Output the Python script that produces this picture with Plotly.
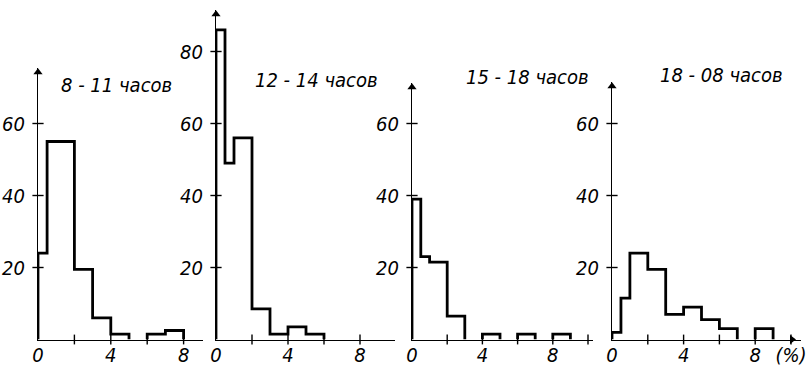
import plotly.graph_objects as go

# Bin edges (%) and frequencies for each time-of-day interval
edges_8_11 = [0, 0.5, 1, 2, 3, 4, 5, 6, 7, 8]
freq_8_11 = [24, 55, 55, 19.5, 6, 1.5, 0, 1.5, 2.5]

edges_12_14 = [0, 0.5, 1, 2, 3, 4, 5, 6]
freq_12_14 = [86, 49, 56, 8.5, 1.5, 3.5, 1.5]

edges_15_18 = [0, 0.5, 1, 2, 3, 4, 5, 6, 7, 8, 9]
freq_15_18 = [39, 23, 21.5, 6.5, 0, 1.5, 0, 1.5, 0, 1.5]

edges_18_08 = [0, 0.5, 1, 2, 3, 4, 5, 6, 7, 8, 9]
freq_18_08 = [2, 11.5, 24, 19.5, 7, 9, 5.5, 3, 0, 3]

titles = ["8 - 11 часов", "12 - 14 часов", "15 - 18 часов", "18 - 08 часов"]
y_tickvals = [[20, 40, 60], [20, 40, 60, 80], [20, 40, 60], [20, 40, 60]]
x_tickvals = [0, 2, 4, 6, 8, 10]
x_ticktext = ["0", "", "4", "", "8", ""]
x_ticktext_last = ["0", "", "4", "", "8", "(%)"]   # last panel carries the unit

W, H = 811, 367
BASE = 339.5        # pixel row of the zero line
PPU_Y = 3.6         # pixels per frequency unit

# panel geometry: left px of y-axis, px per % unit, right end px, top px of y-axis
geom = [
    (38, 18.2, 203, 68),
    (216, 18.0, 395, 10),
    (412, 17.6, 593, 83),
    (612, 17.9, 801, 82),
]
title_pos = [(116, 85), (316, 80), (527, 77), (721, 75)]

FONT = "DejaVu Sans Condensed, DejaVu Sans, sans-serif"
TICKFONT = dict(family=FONT, size=20, color="black", style="italic")


def outline(edges, freq):
    """Histogram outline as step segments, broken over empty bins."""
    xs, ys = [], []
    i, n = 0, len(freq)
    while i < n:
        if freq[i] == 0:
            i += 1
            continue
        j = i
        while j < n and freq[j] != 0:
            j += 1
        xs += [edges[i], edges[i]]
        ys += [0, freq[i]]
        for k in range(i + 1, j):
            xs.append(edges[k])
            ys.append(freq[k])
        xs.append(edges[j])
        ys.append(0)
        xs.append(None)
        ys.append(None)
        i = j
    return xs, ys


data = [(edges_8_11, freq_8_11), (edges_12_14, freq_12_14),
        (edges_15_18, freq_15_18), (edges_18_08, freq_18_08)]

fig = go.Figure()
layout = {}
annotations = []

for p, ((edges, freq), (x0, ppx, xend, top)) in enumerate(zip(data, geom), start=1):
    sfx = "" if p == 1 else str(p)
    xa, ya = "x" + sfx, "y" + sfx
    xmax = (xend - x0) / ppx
    ymax = (BASE - top) / PPU_Y
    yt = y_tickvals[p - 1]
    xt = [v for v in x_tickvals if 0 < v < xmax]

    common = dict(xaxis=xa, yaxis=ya, showlegend=False, hoverinfo="skip", cliponaxis=False)

    # tick marks crossing the axes
    fig.add_trace(go.Scatter(x=[0] * len(yt), y=yt, mode="markers",
                             marker=dict(symbol="line-ew", size=8,
                                         line=dict(width=1.4, color="black")), **common))
    fig.add_trace(go.Scatter(x=xt, y=[0] * len(xt), mode="markers",
                             marker=dict(symbol="line-ns", size=7,
                                         line=dict(width=1.4, color="black")), **common))

    xs, ys = outline(edges, freq)
    fig.add_trace(go.Scatter(x=xs, y=ys, mode="lines", line_shape="hv",
                             line=dict(color="black", width=2.8), **common))
    # arrow head on the y-axis
    fig.add_trace(go.Scatter(x=[0], y=[ymax - 1.2], mode="markers",
                             marker=dict(symbol="triangle-up", size=8, color="black"),
                             **common))

    layout["xaxis" + sfx] = dict(
        domain=[x0 / W, xend / W], range=[0, xmax], anchor=ya, automargin=False,
        showline=True, linecolor="black", linewidth=1.2, showgrid=False,
        zeroline=False, tickvals=x_tickvals,
        ticktext=x_ticktext_last if p == 4 else x_ticktext,
        ticks="", ticklen=0, ticklabelstandoff=-3, tickfont=TICKFONT, fixedrange=True,
    )
    layout["yaxis" + sfx] = dict(
        domain=[(H - BASE) / H, (H - top) / H], range=[0, ymax], anchor=xa,
        automargin=False,
        showline=True, linecolor="black", linewidth=1.2, showgrid=False,
        zeroline=False, tickvals=yt,
        ticks="", ticklen=0, ticklabelstandoff=8, tickfont=TICKFONT, fixedrange=True,
    )

    tx, ty = title_pos[p - 1]
    annotations.append(dict(text=titles[p - 1], x=tx / W, y=(H - ty) / H,
                            xref="paper", yref="paper", showarrow=False,
                            font=dict(family=FONT, size=20, color="black", style="italic"),
                            xanchor="center", yanchor="middle"))

    if p == 4:
        # arrow head on the last x-axis
        fig.add_trace(go.Scatter(x=[(792 - x0) / ppx], y=[0], mode="markers",
                                 marker=dict(symbol="triangle-right", size=8, color="black"),
                                 **common))

fig.update_layout(width=W, height=H, margin=dict(l=0, r=0, t=0, b=0),
                  paper_bgcolor="white", plot_bgcolor="white",
                  annotations=annotations, **layout)

fig.write_html("out.html", include_plotlyjs=True, config={"displayModeBar": False})
